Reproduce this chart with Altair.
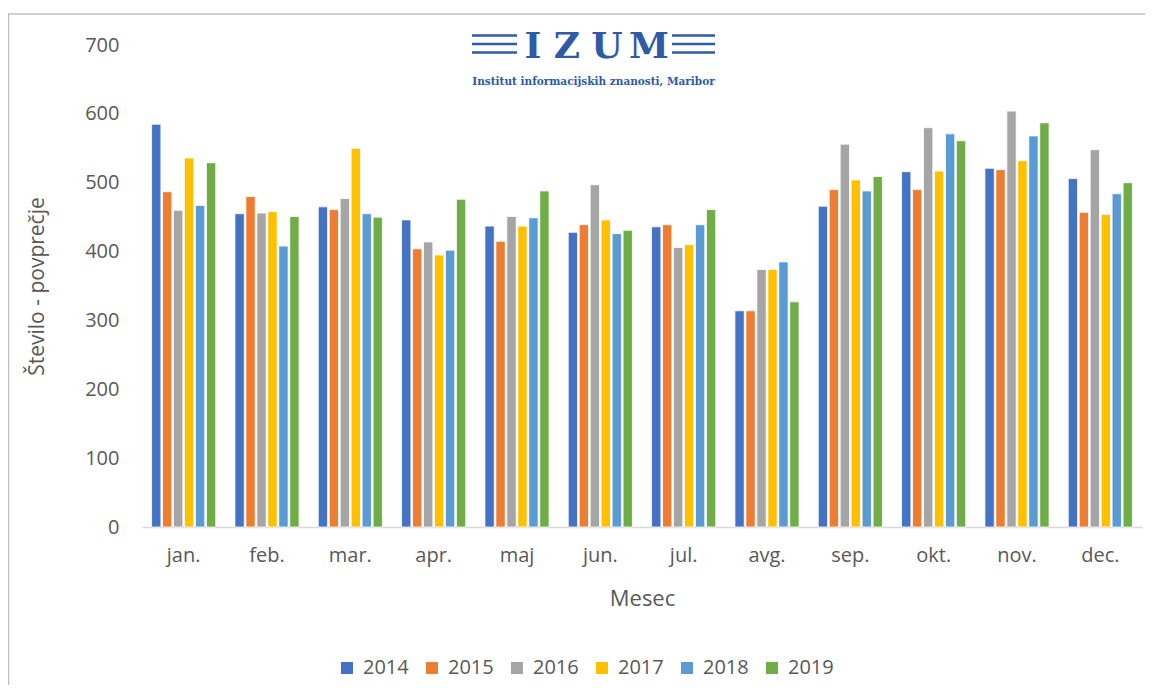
import altair as alt
import pandas as pd

months = ["jan.", "feb.", "mar.", "apr.", "maj", "jun.", "jul.", "avg.", "sep.", "okt.", "nov.", "dec."]
years = ["2014", "2015", "2016", "2017", "2018", "2019"]
v2014 = [585, 455, 465, 446, 437, 428, 436, 314, 466, 516, 521, 506]
v2015 = [487, 480, 461, 404, 415, 439, 439, 314, 490, 490, 519, 457]
v2016 = [460, 456, 477, 414, 451, 497, 406, 374, 556, 580, 604, 548]
v2017 = [536, 458, 550, 395, 437, 446, 410, 374, 504, 517, 532, 454]
v2018 = [467, 408, 455, 402, 449, 426, 439, 385, 488, 571, 568, 484]
v2019 = [529, 451, 450, 476, 488, 431, 461, 327, 509, 561, 587, 500]
colors = ["#4472C4", "#ED7D31", "#A5A5A5", "#FFC000", "#5B9BD5", "#70AD47"]

series = [v2014, v2015, v2016, v2017, v2018, v2019]
rows = []
for y, vals in zip(years, series):
    for m, v in zip(months, vals):
        rows.append({"Mesec": m, "Leto": y, "Vrednost": v})
df = pd.DataFrame(rows)

TXT = "#595959"
FONT = "Open Sans"

bars = alt.Chart(df).mark_bar(stroke="white", strokeWidth=0.8).encode(
    x=alt.X("Mesec:N", sort=months,
            scale=alt.Scale(paddingInner=0.23, paddingOuter=0.115),
            axis=alt.Axis(title="Mesec", labelAngle=0, labelFontSize=20, labelColor=TXT,
                          labelPadding=18, ticks=False, domainColor="#D9D9D9", domainWidth=1.5,
                          titleFontSize=22, titleFontWeight="normal", titleColor=TXT,
                          titleY=71, titleBaseline="middle")),
    xOffset=alt.XOffset("Leto:N", sort=years, scale=alt.Scale(paddingInner=0.15, paddingOuter=0)),
    y=alt.Y("Vrednost:Q", scale=alt.Scale(domain=[0, 700], nice=False),
            axis=alt.Axis(title="Število - povprečje", values=[0, 100, 200, 300, 400, 500, 600, 700],
                          grid=False, domain=False, ticks=False, labelFontSize=20, labelColor=TXT,
                          labelPadding=23, titleFontSize=21, titleFontWeight="normal",
                          titleColor=TXT, titleX=-105, titleY=241, titleAngle=-90,
                          titleBaseline="middle", titleAlign="center")),
    color=alt.Color("Leto:N", sort=years, scale=alt.Scale(domain=years, range=colors),
                    legend=alt.Legend(title=None, orient="none", direction="horizontal",
                                      legendX=195, legendY=613, symbolType="square",
                                      symbolSize=144, symbolStrokeWidth=0, symbolOpacity=1,
                                      labelFontSize=20, labelColor=TXT, labelOffset=6,
                                      columnPadding=13, padding=0)),
)

one = pd.DataFrame({"a": [0]})
layers = [bars]

# IZUM logo
LOGO = "#2E5AA6"
for yy in [-9.5, -1, 7.5]:
    for xa, xb in [(330, 375), (530, 573)]:
        layers.append(alt.Chart(one).mark_rule(color=LOGO, strokeWidth=2.5).encode(
            x=alt.value(xa), x2=alt.value(xb), y=alt.value(yy)))
for letter, xc in [("I", 391), ("Z", 425), ("U", 465), ("M", 507)]:
    layers.append(alt.Chart(one).mark_text(text=letter, font="DejaVu Serif", fontWeight="bold",
                                           fontSize=36, color=LOGO, align="center",
                                           baseline="alphabetic").encode(
        x=alt.value(xc), y=alt.value(13)))
layers.append(alt.Chart(one).mark_text(text="Institut informacijskih znanosti, Maribor",
                                       font="DejaVu Serif", fontWeight="bold", fontSize=10.5,
                                       color=LOGO, align="center", baseline="middle").encode(
    x=alt.value(451.5), y=alt.value(36.7)))

# outer frame lines
layers.append(alt.Chart(one).mark_rule(color="#BFBFBF", strokeWidth=1.5).encode(
    x=alt.value(-134), x2=alt.value(1011), y=alt.value(-31)))
layers.append(alt.Chart(one).mark_rule(color="#BFBFBF", strokeWidth=1.5).encode(
    x=alt.value(-133.5), y=alt.value(-31), y2=alt.value(660)))

chart = alt.layer(*layers).properties(
    width=1000, height=482, autosize="none",
    padding={"left": 134, "top": 37, "right": 3, "bottom": 158},
).configure(font=FONT).configure_view(strokeWidth=0, stroke="transparent")

chart.save("out.html", embed_options={"renderer": "svg", "actions": False})
